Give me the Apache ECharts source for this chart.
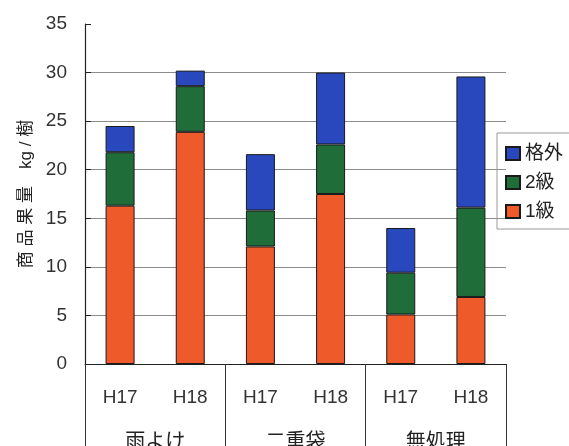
<!DOCTYPE html>
<html>
<head>
<meta charset="utf-8">
<script src="https://cdn.jsdelivr.net/npm/echarts@6/dist/echarts.min.js"></script>
<style>html,body{margin:0;padding:0;background:#fff;}#c{width:569px;height:446px;}</style>
</head>
<body>
<div id="c"></div>
<script>
const years = ['H17', 'H18', 'H17', 'H18', 'H17', 'H18'];
const groups = ['雨よけ', '二重袋', '無処理'];
const grade1 = [16.3, 23.9, 12.1, 17.5, 5.1, 6.9];
const grade2 = [5.5, 4.7, 3.7, 5.1, 4.3, 9.2];
const offGrade = [2.7, 1.6, 5.8, 7.4, 4.6, 13.5];
const yTicks = [0, 35, 5];

const FONT = '"Liberation Sans", "Noto Sans CJK JP", sans-serif';
const chart = echarts.init(document.getElementById('c'), null, {renderer: 'canvas'});
const border = {borderColor: '#1a1a1a', borderWidth: 1};
chart.setOption({
  animation: false,
  backgroundColor: '#fff',
  textStyle: {fontFamily: FONT},
  grid: {left: 85, right: 63, top: 24, bottom: 82, containLabel: false, outerBoundsMode: 'none'},
  legend: {
    left: 497, top: 133,
    orient: 'vertical',
    data: ['格外', '2級', '1級'],
    itemWidth: 14, itemHeight: 13, itemGap: 10,
    padding: [11, 40, 8, 8],
    borderColor: '#999', borderWidth: 1,
    textStyle: {fontSize: 19, color: '#222', fontFamily: FONT},
    icon: 'rect'
  },
  xAxis: [
    {
      type: 'category', data: years, position: 'bottom',
      axisLine: {show: true, lineStyle: {color: '#222', width: 1}},
      axisTick: {show: false},
      axisLabel: {fontSize: 19, color: '#333', margin: 24, interval: 0, fontFamily: FONT}
    },
    {
      type: 'category', data: groups, position: 'bottom',
      axisLine: {show: false},
      axisTick: {show: true, length: 82, interval: 0, lineStyle: {color: '#333', width: 1}},
      axisLabel: {fontSize: 20, color: '#222', margin: 68, interval: 0, fontFamily: FONT}
    }
  ],
  yAxis: {
    type: 'value', min: yTicks[0], max: yTicks[1], interval: yTicks[2],
    name: '商 品 果 量　kg / 樹', nameLocation: 'middle', nameGap: 43,
    nameTextStyle: {fontSize: 17, color: '#222', fontFamily: FONT},
    axisLine: {show: true, lineStyle: {color: '#222', width: 1.2}},
    axisTick: {show: true, inside: true, length: 6, lineStyle: {color: '#222'}},
    axisLabel: {fontSize: 19, color: '#333', margin: 18, fontFamily: FONT},
    splitLine: {show: true, showMaxLine: false, lineStyle: {color: '#8c8c8c', width: 1}}
  },
  series: [
    {name: '1級', type: 'bar', stack: 's', data: grade1, barWidth: 29,
     itemStyle: Object.assign({color: '#EE5A2A'}, border)},
    {name: '2級', type: 'bar', stack: 's', data: grade2, barWidth: 29,
     itemStyle: Object.assign({color: '#1F6E3A'}, border)},
    {name: '格外', type: 'bar', stack: 's', data: offGrade, barWidth: 29,
     itemStyle: Object.assign({color: '#2A48BE'}, border)}
  ]
});
</script>
</body>
</html>
